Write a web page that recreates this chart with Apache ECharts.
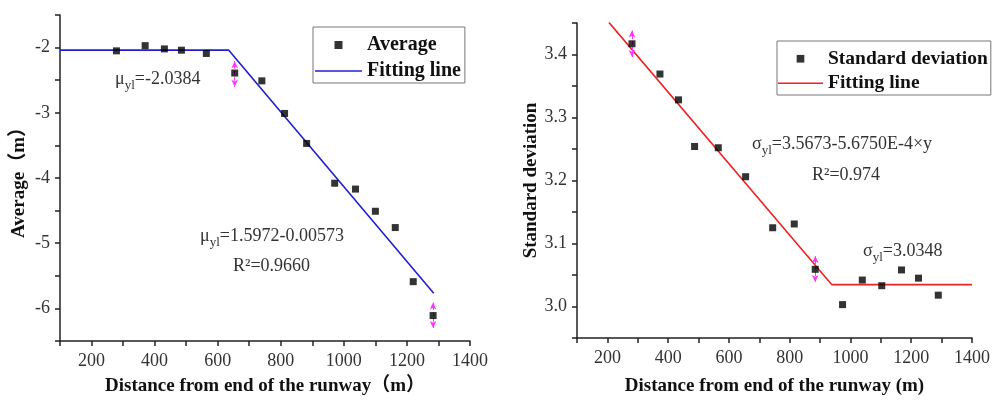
<!DOCTYPE html>
<html>
<head>
<meta charset="utf-8">
<script src="https://cdn.jsdelivr.net/npm/echarts@6/dist/echarts.min.js"></script>
<style>
html,body{margin:0;padding:0;background:#fff}
#main{width:993px;height:401px}
</style>
</head>
<body>
<div id="main"></div>
<script>
// left panel: average
const avgX = [279, 370, 431, 485, 564, 654, 740, 812, 882, 971, 1037, 1100, 1163, 1220, 1283];
const avgY = [-2.05, -1.97, -2.02, -2.04, -2.09, -2.39, -2.51, -3.01, -3.47, -4.08, -4.17, -4.51, -4.76, -5.59, -6.11];
const avgFitX = [100, 634.5, 1285];
const avgFitY = [-2.0384, -2.0384, -5.766];
const avgErrX = [654, 1283];
const avgErrLow = [-2.60, -6.30];
const avgErrHigh = [-2.21, -5.91];

// right panel: standard deviation
const sdX = [281, 373, 434, 487, 565, 655, 744, 815, 884, 974, 1039, 1103, 1168, 1224, 1289];
const sdY = [3.417, 3.369, 3.328, 3.254, 3.252, 3.206, 3.125, 3.131, 3.059, 3.003, 3.042, 3.033, 3.058, 3.045, 3.018];
const sdFitX = [205, 938, 1400];
const sdFitY = [3.451, 3.0348, 3.0348];
const sdErrX = [281, 884];
const sdErrLow = [3.396, 3.039];
const sdErrHigh = [3.438, 3.080];

const serif = "'Liberation Serif', 'DejaVu Serif', 'Noto Sans CJK SC', serif";
const zip = (xs, ys) => xs.map((x, i) => [x, ys[i]]);
// icons drawn in a 47x8 box so they are not stretched
const squareIcon = 'path://M0,4L0,4M19.5,0h8v8h-8zM47,4L47,4';
const lineIcon = 'path://M0,0L0,0M0,3.2h47v1.6h-47zM47,8L47,8';

const axisLine = {show: true, onZero: false, lineStyle: {color: '#222', width: 1.5}};
const axisTick = {show: true, inside: false, length: 5, lineStyle: {color: '#222', width: 1.5}};
const tickFont = {fontFamily: serif, fontSize: 18, color: '#333'};
const nameFont = {fontFamily: serif, fontSize: 19, fontWeight: 'bold', color: '#111'};
const legendFont = size => ({fontFamily: serif, fontSize: size, fontWeight: 'bold', color: '#111', lineHeight: 19});

function xAxisOf(grid, name, gap) {
  return {
    type: 'value', gridIndex: grid, min: 100, max: 1400, interval: 100,
    name: name, nameLocation: 'middle', nameGap: gap, nameTextStyle: nameFont,
    axisLine: axisLine, axisTick: axisTick, splitLine: {show: false},
    axisLabel: Object.assign({margin: 11, formatter: v => (v % 200 === 0 ? String(v) : '')}, tickFont)
  };
}

function errLines(xs, lo, hi) {
  return {
    silent: true, animation: false,
    symbol: ['arrow', 'arrow'], symbolSize: [5, 7],
    lineStyle: {color: '#ff33ff', type: 'dashed', width: 1},
    label: {show: false}, emphasis: {disabled: true},
    data: xs.map((x, i) => [{coord: [x, lo[i]]}, {coord: [x, hi[i]]}])
  };
}

function note(left, top, parts) {
  // parts: [text, isSub]
  return {
    type: 'text', left: left, top: top, z: 10,
    style: {
      text: parts.map(p => (p[1] ? '{s|' : '{t|') + p[0] + '}').join(''),
      rich: {
        t: {fontFamily: serif, fontSize: 18, lineHeight: 22, verticalAlign: 'top', fill: '#333'},
        s: {fontFamily: serif, fontSize: 13, lineHeight: 21, verticalAlign: 'bottom', fill: '#333'}
      }
    }
  };
}

const chart = echarts.init(document.getElementById('main'));
chart.setOption({
  animation: false,
  backgroundColor: '#fff',
  grid: [
    {left: 60, top: 15, width: 410, height: 330},
    {left: 577, top: 23, width: 399, height: 321}
  ],
  legend: [
    {
      left: 313, top: 27, orient: 'vertical', itemWidth: 47, itemHeight: 8, itemGap: 6,
      padding: [8, 4, 2, 2], borderColor: '#777', borderWidth: 1,
      textStyle: legendFont(20),
      data: [{name: 'Average', icon: squareIcon}, {name: 'Fitting line', icon: lineIcon}]
    },
    {
      left: 777, top: 41, orient: 'vertical', itemWidth: 45, itemHeight: 8, itemGap: 5,
      padding: [8, 3, 2, 1], borderColor: '#777', borderWidth: 1,
      textStyle: legendFont(19.5),
      formatter: n => (n.indexOf('Fitting') === 0 ? 'Fitting line' : n),
      data: [{name: 'Standard deviation', icon: squareIcon}, {name: 'Fitting line (SD)', icon: lineIcon}]
    }
  ],
  xAxis: [
    xAxisOf(0, 'Distance from end of the runway\uFF08m\uFF09', 36),
    xAxisOf(1, 'Distance from end of the runway (m)', 39)
  ],
  yAxis: [
    {
      type: 'value', gridIndex: 0, min: -6.5, max: -1.5, interval: 0.5,
      name: 'Average\uFF08m\uFF09', nameLocation: 'middle', nameGap: 31, nameTextStyle: nameFont,
      axisLine: axisLine, axisTick: axisTick, splitLine: {show: false},
      axisLabel: Object.assign({margin: 10, formatter: v => (Number.isInteger(v) ? String(v) : '')}, tickFont)
    },
    {
      type: 'value', gridIndex: 1, min: 2.95, max: 3.45, interval: 0.05,
      name: 'Standard deviation', nameLocation: 'middle', nameGap: 33, nameTextStyle: nameFont,
      axisLine: axisLine, axisTick: axisTick, splitLine: {show: false},
      axisLabel: Object.assign({margin: 10, formatter: v => {
        const r = Math.round(v * 10);
        return Math.abs(v * 10 - r) < 1e-6 ? (r / 10).toFixed(1) : '';
      }}, tickFont)
    }
  ],
  series: [
    {
      name: 'Fitting line', type: 'line', xAxisIndex: 0, yAxisIndex: 0,
      data: zip(avgFitX, avgFitY), symbol: 'none',
      lineStyle: {color: '#2020d0', width: 1.6}, itemStyle: {color: '#2020d0'}
    },
    {
      name: 'Average', type: 'scatter', xAxisIndex: 0, yAxisIndex: 0,
      data: zip(avgX, avgY), symbol: 'rect', symbolSize: 7,
      itemStyle: {color: '#000'}, z: 5,
      markLine: errLines(avgErrX, avgErrLow, avgErrHigh)
    },
    {
      name: 'Fitting line (SD)', type: 'line', xAxisIndex: 1, yAxisIndex: 1,
      data: zip(sdFitX, sdFitY), symbol: 'none',
      lineStyle: {color: '#ee2222', width: 1.6}, itemStyle: {color: '#ee2222'}
    },
    {
      name: 'Standard deviation', type: 'scatter', xAxisIndex: 1, yAxisIndex: 1,
      data: zip(sdX, sdY), symbol: 'rect', symbolSize: 7,
      itemStyle: {color: '#000'}, z: 5,
      markLine: errLines(sdErrX, sdErrLow, sdErrHigh)
    }
  ],
  graphic: [
    note(115, 70, [['\u03BC'], ['yl', 1], ['=-2.0384']]),
    note(200, 227, [['\u03BC'], ['yl', 1], ['=1.5972-0.00573']]),
    note(233, 257, [['R\u00B2=0.9660']]),
    note(752, 135, [['\u03C3'], ['yl', 1], ['=3.5673-5.6750E-4\u00D7y']]),
    note(812, 166, [['R\u00B2=0.974']]),
    note(863, 242, [['\u03C3'], ['yl', 1], ['=3.0348']])
  ]
});
</script>
</body>
</html>
